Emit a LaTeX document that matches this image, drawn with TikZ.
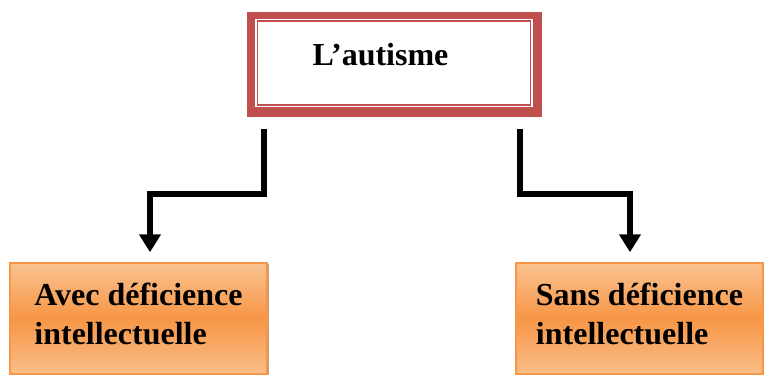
\documentclass[tikz,border=0pt]{standalone}
\usepackage{fontspec}
\setmainfont{Liberation Serif}
\usepackage{xcolor}
\usetikzlibrary{positioning,arrows.meta,shadows}
\definecolor{rouge}{HTML}{C0504D}
\definecolor{orangefonce}{HTML}{F79646}
\definecolor{orangeclair}{HTML}{FAC290}
\tikzset{
  cadre/.style={draw=rouge,line width=8pt,minimum width=286.5pt,minimum height=97pt,inner sep=0pt},
  boite/.style={draw=orangefonce,line width=1.5pt,top color=orangeclair,bottom color=orangeclair!90!orangefonce,middle color=orangefonce,
    minimum height=111pt,align=left,inner sep=0pt,font=\fontsize{32}{39}\selectfont\bfseries,
    drop shadow={shadow xshift=1.5pt,shadow yshift=-1pt,fill=orangefonce!60!black,opacity=.6}},
  fleche/.style={line width=6pt,-{Triangle[width=21pt,length=18pt]}}
}
\begin{document}
\begin{tikzpicture}[x=1pt,y=-1pt]
  \useasboundingbox (0,0) rectangle (764,376);
  \node[cadre] (autisme) at (394.25,64) {};
  \draw[rouge,line width=1.2pt,double,double distance=1.8pt] ([shift={(9pt,-8pt)}]autisme.north west) rectangle ([shift={(-9.5pt,10pt)}]autisme.south east);
  \node[anchor=base west,inner sep=0pt,font=\fontsize{32}{38}\selectfont\bfseries] (titre) at (312.5,65) {L’autisme};
  \node[boite,minimum width=257pt,text depth=9pt] (avec) at (138.5,318.5) {Avec déficience\\intellectuelle};
  \node[boite,minimum width=247pt,text depth=9pt] (sans) at (639.5,318.5) {Sans déficience\\intellectuelle};
  \draw[fleche] ([xshift=17pt,yshift=-12.5pt]autisme.south west) -- ++(0,65) -| ([xshift=11.5pt,yshift=10pt]avec.north);
  \draw[fleche] ([xshift=-21.5pt,yshift=-12.5pt]autisme.south east) -- ++(0,65) -| ([xshift=-9.5pt,yshift=10pt]sans.north);
\end{tikzpicture}
\end{document}
